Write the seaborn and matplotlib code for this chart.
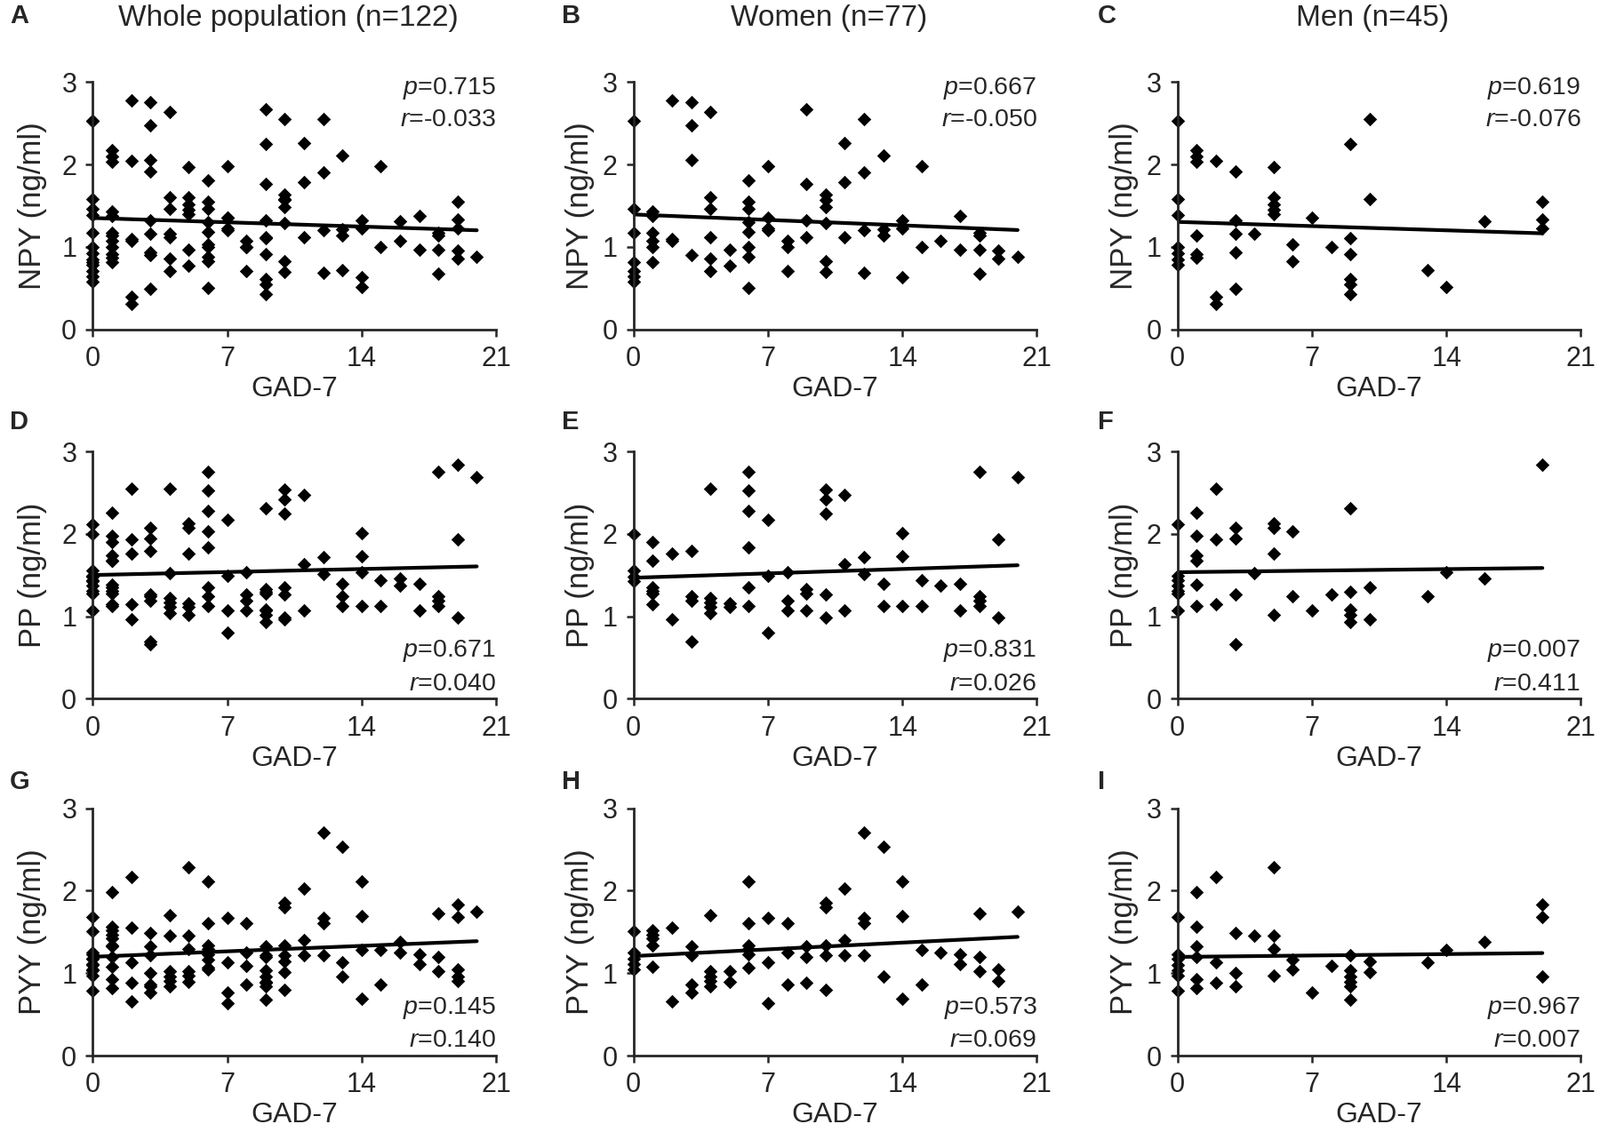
import numpy as np
import pandas as pd
import matplotlib
matplotlib.use("Agg")
import matplotlib.pyplot as plt
import seaborn as sns

# ---- data ----
# women (n=77), NPY
women_npy_gad = ([0]*7 + [1]*6 + [2]*3 + [3]*4 + [4]*6 + [5]*2 + [6]*8 + [7]*4 + [8]*3 + [9]*4
                 + [10]*6 + [11]*3 + [12]*4 + [13]*3 + [14]*3 + [15]*2 + [16] + [17]*2 + [18]*4 + [19]*2 + [20])
women_npy = [2.53, 1.46, 1.17, 0.82, 0.71, 0.64, 0.58,
             1.43, 1.38, 1.17, 1.07, 1.00, 0.82,
             2.78, 1.10, 1.07,
             2.76, 2.48, 2.06, 0.90,
             2.64, 1.60, 1.46, 1.12, 0.86, 0.71,
             0.97, 0.77,
             1.81, 1.55, 1.46, 1.30, 1.18, 1.00, 0.88, 0.50,
             1.98, 1.36, 1.23, 1.20,
             1.07, 1.00, 0.71,
             2.67, 1.76, 1.32, 1.12,
             1.64, 1.57, 1.48, 1.29, 0.83, 0.70,
             2.26, 1.79, 1.12,
             2.55, 1.90, 1.20, 0.69,
             2.11, 1.21, 1.14,
             1.32, 1.23, 0.63,
             1.98, 1.00,
             1.07,
             1.38, 0.97,
             1.17, 1.14, 0.97, 0.68,
             0.96, 0.86,
             0.88]

# women, PP
women_pp_gad = ([0]*4 + [1]*6 + [2]*2 + [3]*4 + [4]*5 + [5]*2 + [6]*6 + [7]*3 + [8]*3 + [9]*3
                + [10]*5 + [11]*3 + [12]*2 + [13]*2 + [14]*3 + [15]*2 + [16] + [17]*2 + [18]*4 + [19]*2 + [20])
women_pp = [2.00, 1.56, 1.48, 1.43,
            1.90, 1.67, 1.35, 1.31, 1.28, 1.15,
            1.76, 0.96,
            1.79, 1.24, 1.19, 0.69,
            2.55, 1.22, 1.17, 1.12, 1.04,
            1.16, 1.12,
            2.75, 2.53, 2.28, 1.84, 1.35, 1.13,
            2.17, 1.49, 0.80,
            1.54, 1.19, 1.07,
            1.33, 1.28, 1.07,
            2.54, 2.42, 2.25, 1.27, 0.99,
            2.47, 1.63, 1.07,
            1.72, 1.51,
            1.40, 1.13,
            2.01, 1.73, 1.13,
            1.44, 1.13,
            1.37,
            1.40, 1.07,
            2.75, 1.24, 1.19, 1.13,
            1.93, 0.99,
            2.69]

# women, PYY
women_pyy_gad = ([0]*5 + [1]*5 + [2]*2 + [3]*4 + [4]*5 + [5]*2 + [6]*6 + [7]*3 + [8]*3 + [9]*3
                 + [10]*5 + [11]*3 + [12]*4 + [13]*2 + [14]*3 + [15]*2 + [16] + [17]*2 + [18]*3 + [19]*2 + [20])
women_pyy = [1.51, 1.25, 1.18, 1.11, 1.05,
             1.52, 1.47, 1.42, 1.34, 1.08,
             1.55, 0.66,
             1.33, 1.22, 0.86, 0.77,
             1.70, 1.02, 0.96, 0.91, 0.84,
             1.02, 0.89,
             2.11, 1.61, 1.34, 1.29, 1.23, 1.07,
             1.67, 1.13, 0.64,
             1.61, 1.25, 0.86,
             1.33, 1.20, 0.88,
             1.85, 1.80, 1.34, 1.22, 0.80,
             2.03, 1.40, 1.22,
             2.70, 1.67, 1.61, 1.22,
             2.53, 0.96,
             2.11, 1.69, 0.69,
             1.28, 0.86,
             1.25,
             1.23, 1.11,
             1.72, 1.20, 1.02,
             1.05, 0.91,
             1.75]

# men (n=45), NPY
men_npy_gad = ([0]*7 + [1]*6 + [2]*3 + [3]*5 + [4] + [5]*5 + [6]*2 + [7] + [8] + [9]*6
               + [10]*2 + [13] + [14] + [16] + [19]*3)
men_npy = [2.53, 1.58, 1.39, 1.00, 0.92, 0.85, 0.78,
           2.17, 2.10, 2.03, 1.14, 0.91, 0.87,
           2.05, 0.40, 0.31,
           1.92, 1.32, 1.16, 0.94, 0.49,
           1.16,
           1.97, 1.60, 1.52, 1.45, 1.40,
           1.03, 0.83,
           1.36,
           1.00,
           2.25, 1.11, 0.91, 0.61, 0.55, 0.43,
           2.55, 1.58,
           0.72,
           0.52,
           1.31,
           1.55, 1.33, 1.23]

# men, PP
men_pp_gad = ([0]*7 + [1]*6 + [2]*3 + [3]*4 + [4] + [5]*4 + [6]*2 + [7] + [8] + [9]*5
              + [10]*2 + [13] + [14] + [16] + [19])
men_pp = [2.12, 1.49, 1.44, 1.37, 1.31, 1.28, 1.07,
          2.26, 1.98, 1.74, 1.67, 1.38, 1.13,
          2.55, 1.93, 1.15,
          2.07, 1.95, 1.27, 0.66,
          1.52,
          2.13, 2.07, 1.76, 1.02,
          2.03, 1.24,
          1.07,
          1.27,
          2.31, 1.30, 1.08, 1.02, 0.93,
          1.35, 0.96,
          1.24,
          1.54,
          1.46,
          2.84]

# men, PYY
men_pyy_gad = ([0]*7 + [1]*6 + [2]*3 + [3]*3 + [4] + [5]*4 + [6]*2 + [7] + [8] + [9]*6
               + [10]*2 + [13] + [14] + [16] + [19]*3)
men_pyy = [1.68, 1.23, 1.18, 1.10, 1.03, 0.97, 0.79,
           1.98, 1.56, 1.33, 1.20, 0.93, 0.82,
           2.17, 1.13, 0.88,
           1.49, 1.00, 0.84,
           1.46,
           2.28, 1.46, 1.29, 0.97,
           1.16, 1.05,
           0.77,
           1.09,
           1.22, 1.04, 0.96, 0.90, 0.84, 0.68,
           1.14, 1.01,
           1.13,
           1.28,
           1.38,
           1.83, 1.68, 0.96]

titles = ["Whole population (n=122)", "Women (n=77)", "Men (n=45)"]
letters = ["A", "B", "C", "D", "E", "F", "G", "H", "I"]
ylabels = ["NPY (ng/ml)", "PP (ng/ml)", "PYY (ng/ml)"]
p_vals = [["0.715", "0.667", "0.619"], ["0.671", "0.831", "0.007"], ["0.145", "0.573", "0.967"]]
r_vals = [["-0.033", "-0.050", "-0.076"], ["0.040", "0.026", "0.411"], ["0.140", "0.069", "0.007"]]

women = [(women_npy_gad, women_npy), (women_pp_gad, women_pp), (women_pyy_gad, women_pyy)]
men = [(men_npy_gad, men_npy), (men_pp_gad, men_pp), (men_pyy_gad, men_pyy)]

sns.set_style("ticks")
plt.rcParams['font.family'] = ['Liberation Sans', 'DejaVu Sans']
plt.rcParams['mathtext.fontset'] = 'custom'
plt.rcParams['mathtext.rm'] = 'Liberation Sans'
plt.rcParams['mathtext.it'] = 'Liberation Sans:italic'

fig = plt.figure(figsize=(18, 12.83), dpi=100)

col_left = [0.058, 0.396, 0.736]
row_bottom = [0.711, 0.387, 0.074]
ax_w, ax_h = 0.252, 0.217
letter_x = [0.006, 0.351, 0.686]
letter_y = [0.986, 0.630, 0.314]
ylabel_pad = [12, 6, 6]

for i in range(3):
    wx, wy = women[i]
    mx, my = men[i]
    # whole population = women + men
    groups = [(list(wx) + list(mx), list(wy) + list(my)), (wx, wy), (mx, my)]
    for j in range(3):
        ax = fig.add_axes([col_left[j], row_bottom[i], ax_w, ax_h])
        df = pd.DataFrame({"GAD-7": groups[j][0], "val": groups[j][1]})
        sns.regplot(data=df, x="GAD-7", y="val", ax=ax, ci=None, marker="D", color="black",
                    scatter_kws=dict(s=62, clip_on=False, linewidths=0, alpha=1),
                    line_kws=dict(lw=3, color="black"))
        ax.set_xlim(0, 21)
        ax.set_ylim(0, 3)
        ax.set_xticks([0, 7, 14, 21])
        ax.set_yticks([0, 1, 2, 3])
        sns.despine(ax=ax)
        for s in ["left", "bottom"]:
            ax.spines[s].set_linewidth(2)
        ax.tick_params(direction="out", length=6, width=1.8, labelsize=22, pad=7)
        ax.set_xlabel("GAD-7", fontsize=23, labelpad=3)
        ax.set_ylabel(ylabels[i], fontsize=25, labelpad=ylabel_pad[j])
        if i == 0:
            yp, yr = 2.92, 2.54
        else:
            yp, yr = 0.58, 0.18
        ax.text(21, yp, r"$\mathit{p}$=" + p_vals[i][j], ha="right", va="center", fontsize=20.5)
        ax.text(21, yr, r"$\mathit{r}$=" + r_vals[i][j], ha="right", va="center", fontsize=20.5)
        fig.text(letter_x[j], letter_y[i], letters[i * 3 + j], fontsize=21, fontweight="bold",
                 ha="left", va="center")

for j in range(3):
    fig.text(col_left[j] + ax_w / 2 - 0.004, 0.984, titles[j], fontsize=24, ha="center", va="center")

fig.savefig("out.png", dpi=100)
